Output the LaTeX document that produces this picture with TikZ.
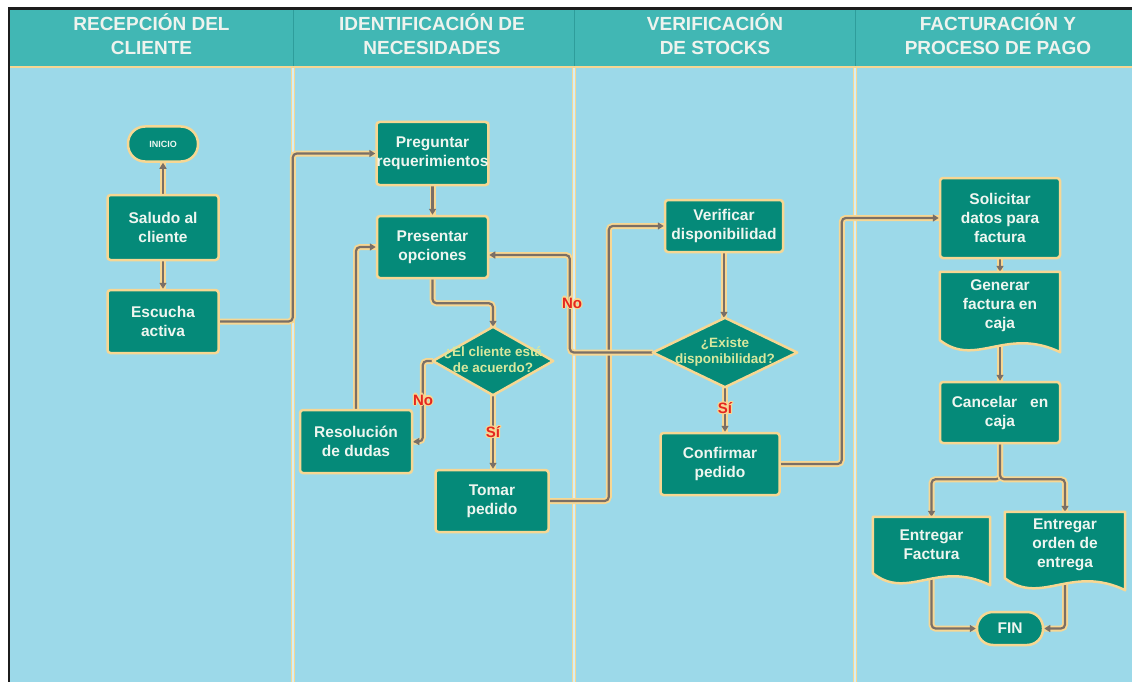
\documentclass[tikz,border=0pt]{standalone}
\usepackage{fontspec}
\setmainfont{Liberation Sans}
\usetikzlibrary{arrows.meta,calc}

\definecolor{frame}{HTML}{1C1C1C}
\definecolor{headteal}{HTML}{41B7B4}
\definecolor{headrule}{HTML}{2E9D9B}
\definecolor{lanebg}{HTML}{9CD9E9}
\definecolor{cream}{HTML}{F7D793}
\definecolor{lanegap}{HTML}{D6EEF3}
\definecolor{boxfill}{HTML}{058A79}
\definecolor{linegray}{HTML}{7A6F66}
\definecolor{boxtext}{HTML}{EEF6F0}
\definecolor{asktext}{HTML}{D8E89E}
\definecolor{markred}{HTML}{E5261F}
\definecolor{headtext}{HTML}{EEF3EE}

\pgfdeclarelayer{bg}
\pgfdeclarelayer{edges}
\pgfdeclarelayer{shapes}
\pgfsetlayers{bg,edges,shapes,main}

\newcommand\boxfont{\fontsize{15.5}{19}\selectfont\bfseries}
\newcommand\askfont{\fontsize{13.5}{16}\selectfont\bfseries}
\newcommand\headfont{\fontsize{19}{24}\selectfont\bfseries}

% text with a cream halo (used for the Sí / No marks)
\newcommand\halocopy[3]{\rlap{\kern#1\raise#2\hbox{\color{cream}#3}}}
\newcommand\halotext[1]{%
  \halocopy{1.2pt}{0pt}{#1}\halocopy{-1.2pt}{0pt}{#1}%
  \halocopy{0pt}{1.2pt}{#1}\halocopy{0pt}{-1.2pt}{#1}%
  \halocopy{.85pt}{.85pt}{#1}\halocopy{-.85pt}{.85pt}{#1}%
  \halocopy{.85pt}{-.85pt}{#1}\halocopy{-.85pt}{-.85pt}{#1}#1}

% wavy "document" outline around a holder node
\newcommand\docshape[1]{%
  \begin{pgfonlayer}{shapes}
  \path[draw=cream,line width=2.5pt,fill=boxfill,line join=round]
    (#1.north west) -- (#1.north east) -- ($(#1.south east)+(0,-12pt)$)
    .. controls ($(#1.south west)!0.55!(#1.south east)+(0,14pt)$)
           and ($(#1.south west)!0.3!(#1.south east)+(0,-28pt)$) .. (#1.south west) -- cycle;
  \end{pgfonlayer}}

% decision diamond through the holder's side anchors
\newcommand\askshape[1]{%
  \begin{pgfonlayer}{shapes}
  \path[draw=cream,line width=2.5pt,fill=boxfill,line join=round]
    (#1.north) -- (#1.east) -- (#1.south) -- (#1.west) -- cycle;
  \end{pgfonlayer}}

\tikzset{
  box/.style={draw=cream, line width=2.5pt, fill=boxfill, rounded corners=3pt,
    text=boxtext, font=\boxfont, align=center, inner sep=0pt},
  terminal/.style={box, rounded corners=16pt},
  holder/.style={inner sep=0pt, text=boxtext, font=\boxfont, align=center},
  askholder/.style={inner sep=0pt, text=asktext, font=\askfont},
  flow/.style={draw=linegray, line width=2.2pt, rounded corners=4pt,
    -{Triangle[length=6pt,width=7pt]},
    preaction={draw=cream, line width=6pt, arrows=-}},
  branchmark/.style={text=markred, font=\fontsize{15}{17}\selectfont\bfseries, inner sep=0pt},
  headtitle/.style={text=headtext, font=\headfont, align=center, inner sep=0pt},
  lanerule/.style={draw=cream, line width=1.1pt, double=lanegap, double distance=1.2pt},
}

\begin{document}
\begin{tikzpicture}[x=1pt,y=-1pt]
\useasboundingbox (0,0) rectangle (1132,682);

% frame, header band and lanes
\begin{pgfonlayer}{bg}
  \fill[white] (0,0) rectangle (1132,682);
  \fill[frame] (8,7) rectangle (1132,682);
  \fill[headteal] (10,10) rectangle (1132,66);
  \fill[cream] (10,66) rectangle (1132,68.5);
  \fill[lanebg] (10,68.5) rectangle (1132,682);
  \foreach \x in {293,574,855} {
    \draw[headrule, line width=1pt] (\x,10) -- (\x,66);
    \draw[lanerule] (\x,68.5) -- (\x,682);
  }
\end{pgfonlayer}

% lane titles
\node[headtitle] (h1) at (151.5,34) {RECEPCIÓN DEL\\CLIENTE};
\node[headtitle] (h2) at (432,34) {IDENTIFICACIÓN DE\\NECESIDADES};
\node[headtitle] (h3) at (715,34) {VERIFICACIÓN\\DE STOCKS};
\node[headtitle] (h4) at (998,34) {FACTURACIÓN Y\\PROCESO DE PAGO};

% lane 1
\node[terminal, rounded corners=17pt, minimum width=70pt, minimum height=35pt,
      font=\fontsize{9}{11}\selectfont\bfseries] (inicio) at (163,144) {INICIO};
\node[box, minimum width=111pt, minimum height=65pt] (saludo) at (163,227.5) {Saludo al\\cliente};
\node[box, minimum width=111pt, minimum height=63pt] (escucha) at (163,321.5) {Escucha\\activa};

% lane 2
\node[box, minimum width=111pt, minimum height=63pt] (preg) at (432.5,153.5) {Preguntar\\requerimientos};
\node[box, minimum width=111pt, minimum height=62pt] (pres) at (432.5,247) {Presentar\\opciones};
\node[askholder, minimum width=120pt, minimum height=68pt] (d1) at (493,361)
  {\begin{tabular}{@{}c@{}}¿El cliente está\\de acuerdo?\end{tabular}};
\askshape{d1}
\node[box, minimum width=112pt, minimum height=63pt] (resol) at (356,441.5) {Resolución\\de dudas};
\node[box, minimum width=113pt, minimum height=62pt] (tomar) at (492,501) {Tomar\\pedido};

% lane 3
\node[box, minimum width=118pt, minimum height=52pt] (verif) at (724,226) {Verificar\\disponibilidad};
\node[askholder, minimum width=144pt, minimum height=69pt] (d2) at (725,352.5)
  {\raisebox{6pt}{\begin{tabular}{@{}c@{}}¿Existe\\disponibilidad?\end{tabular}}};
\askshape{d2}
\node[box, minimum width=119pt, minimum height=62pt] (confirm) at (720,464) {Confirmar\\pedido};

% lane 4
\node[box, minimum width=120pt, minimum height=80pt] (solic) at (1000,218) {Solicitar\\datos para\\factura};
\node[holder, minimum width=120pt, minimum height=68pt] (gen) at (1000,306) {Generar\\factura en\\caja};
\docshape{gen}
\node[box, minimum width=120pt, minimum height=61pt] (cancel) at (1000,412.5) {Cancelar\ \ \ en\\caja};
\node[holder, minimum width=117pt, minimum height=56pt] (entf) at (931.5,545) {Entregar\\Factura};
\docshape{entf}
\node[holder, minimum width=120pt, minimum height=66pt] (ento) at (1065,545) {Entregar\\orden de\\entrega};
\docshape{ento}
\node[terminal, minimum width=66pt, minimum height=33pt] (fin) at (1010,628.5) {FIN};

% connectors
\begin{pgfonlayer}{edges}
  \draw[flow] (saludo.north) -- (inicio.south);
  \draw[flow] (saludo.south) -- (escucha.north);
  \draw[flow] (escucha.east) -- ++(73pt,0) |- (preg.west);
  \draw[flow] (preg.south) -- (pres.north);
  \draw[flow] (pres.south) -- ++(0,-24pt) -| (d1.north);
  \draw[flow] (d1.west) -- ++(-10pt,0) |- (resol.east);
  \draw[flow] (resol.north) |- (pres.west);
  \draw[flow] (d1.south) -- (d1.south |- tomar.north);
  \draw[flow] (tomar.east) -- ++(59pt,0) |- (verif.west);
  \draw[flow] (verif.south) -- (verif.south |- d2.north);
  \draw[flow] (d2.west) -- ++(-83pt,0) |- ($(pres.east)+(0,-8pt)$);
  \draw[flow] (d2.south) -- (d2.south |- confirm.north);
  \draw[flow] (confirm.east) -- ++(61pt,0) |- (solic.west);
  \draw[flow] (solic.south) -- (gen.north);
  \draw[flow] (gen.south) -- (cancel.north);
  \draw[flow] (cancel.south) -- ++(0,-35pt) -| (entf.north);
  \draw[flow] (cancel.south) -- ++(0,-35pt) -| (ento.north);
  \draw[flow] (entf.south) |- (fin.west);
  \draw[flow] (ento.south) |- (fin.east);
\end{pgfonlayer}

% branch marks
\node[branchmark] (no1) at (423,400) {\halotext{No}};
\node[branchmark] (si1) at (493,432) {\halotext{Sí}};
\node[branchmark] (no2) at (572,303) {\halotext{No}};
\node[branchmark] (si2) at (725,408) {\halotext{Sí}};
\end{tikzpicture}
\end{document}
